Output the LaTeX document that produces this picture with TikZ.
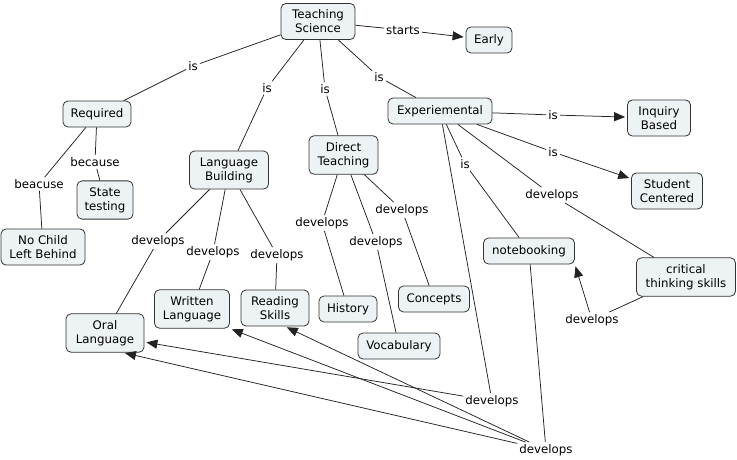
\documentclass[tikz,border=0pt]{standalone}
\usepackage{fontspec}
\setmainfont{DejaVu Sans}
\usetikzlibrary{arrows.meta}
\definecolor{boxfill}{HTML}{EDF3F5}
\definecolor{edgecol}{HTML}{222222}
\begin{document}
\begin{tikzpicture}[x=1pt,y=-1pt,
  box/.style={draw=black!80, fill=boxfill, rounded corners=5pt, line width=0.8pt,
    align=center, inner xsep=4pt, inner ysep=6.5pt, minimum height=26pt,
    font=\fontsize{11.8pt}{14pt}\selectfont},
  lab/.style={inner sep=2pt, font=\fontsize{11.8pt}{14pt}\selectfont},
  conn/.style={draw=edgecol, line width=0.75pt},
  arr/.style={conn, -{Triangle[length=11pt,width=9pt]}, shorten >=2pt}]
\useasboundingbox (0,0) rectangle (737,460);
% concept boxes
\node[box, minimum width=74pt] (ts) at (318,21.5) {Teaching\\Science};
\node[box, minimum width=46pt] (early) at (489,40) {Early};
\node[box, minimum width=68pt] (req) at (97,114) {Required};
\node[box, minimum width=79pt] (lb) at (229,170) {Language\\Building};
\node[box, minimum width=69pt] (dt) at (343.5,155) {Direct\\Teaching};
\node[box, minimum width=104pt] (exp) at (440,111) {Experiemental};
\node[box, minimum width=63pt] (inq) at (659,118) {Inquiry\\Based};
\node[box, minimum width=71pt] (stu) at (667,191) {Student\\Centered};
\node[box, minimum width=56pt] (st) at (105,200) {State\\testing};
\node[box, minimum width=84pt] (nclb) at (43,247) {No Child\\Left Behind};
\node[box, minimum width=78pt] (oral) at (105,333) {Oral\\Language};
\node[box, minimum width=75pt] (wl) at (192,309) {Written\\Language};
\node[box, minimum width=68pt] (rs) at (275,308) {Reading\\Skills};
\node[box, minimum width=58pt] (hist) at (348,309) {History};
\node[box, minimum width=71pt] (conc) at (434,299) {Concepts};
\node[box, minimum width=82pt] (voc) at (399,346) {Vocabulary};
\node[box, minimum width=91pt] (nb) at (529,251) {notebooking};
\node[box, minimum width=99pt] (cts) at (686,277) {critical\\thinking skills};
% link labels
\node[lab] (lstarts) at (403,30) {starts};
\node[lab] (lis1) at (193,66) {is};
\node[lab] (lis2) at (267,88) {is};
\node[lab] (lis3) at (325,89) {is};
\node[lab] (lis4) at (379,77) {is};
\node[lab] (lbecause) at (95,162) {because};
\node[lab] (lbeacuse) at (39,184) {beacuse};
\node[lab] (lis5) at (553,115) {is};
\node[lab] (lis6) at (553,152) {is};
\node[lab] (lis7) at (465,164) {is};
\node[lab] (ldev1) at (552,195) {develops};
\node[lab] (ldev2) at (158,241) {develops};
\node[lab] (ldev3) at (213,252) {develops};
\node[lab] (ldev4) at (277,255) {develops};
\node[lab] (ldev5) at (322,223) {develops};
\node[lab] (ldev6) at (376,242) {develops};
\node[lab] (ldev7) at (402,210) {develops};
\node[lab] (ldev8) at (592,320) {develops};
\node[lab] (ldev9) at (492,401) {develops};
\node[lab] (ldev10) at (546,450) {develops};
% connectors
\draw[conn] (ts) -- (lis1); \draw[conn] (lis1) -- (req);
\draw[conn] (ts) -- (lis2); \draw[conn] (lis2) -- (lb);
\draw[conn] (ts) -- (lis3); \draw[conn] (lis3) -- (dt);
\draw[conn] (ts) -- (lis4); \draw[conn] (lis4) -- (exp);
\draw[conn] (ts) -- (lstarts); \draw[arr] (lstarts) -- (early);
\draw[conn] (req) -- (lbecause); \draw[conn] (lbecause) -- (st);
\draw[conn] (req) -- (lbeacuse); \draw[conn] (lbeacuse) -- (nclb);
\draw[conn] (exp) -- (lis5); \draw[arr] (lis5) -- (inq);
\draw[conn] (exp) -- (lis6); \draw[arr] (lis6) -- (stu);
\draw[conn] (exp) -- (lis7); \draw[conn] (lis7) -- (nb);
\draw[conn] (exp) -- (ldev1); \draw[conn] (ldev1) -- (cts);
\draw[conn] (lb) -- (ldev2); \draw[conn] (ldev2) -- (oral);
\draw[conn] (lb) -- (ldev3); \draw[conn] (ldev3) -- (wl);
\draw[conn] (lb) -- (ldev4); \draw[conn] (ldev4) -- (rs);
\draw[conn] (dt) -- (ldev5); \draw[conn] (ldev5) -- (hist);
\draw[conn] (dt) -- (ldev6); \draw[conn] (ldev6) -- (voc);
\draw[conn] (dt) -- (ldev7); \draw[conn] (ldev7) -- (conc);
\draw[conn] (cts) -- (ldev8); \draw[arr] (ldev8) -- (nb.south east);
\draw[conn] (exp) -- (ldev9); \draw[arr] (ldev9) -- ([yshift=-9pt]oral.east);
\draw[conn] (nb) -- (ldev10);
\draw[arr] (ldev10) -- ([xshift=18pt]oral.south);
\draw[arr] (ldev10) -- (wl.south east);
\draw[arr] (ldev10) -- ([xshift=10pt]rs.south);
\end{tikzpicture}
\end{document}
